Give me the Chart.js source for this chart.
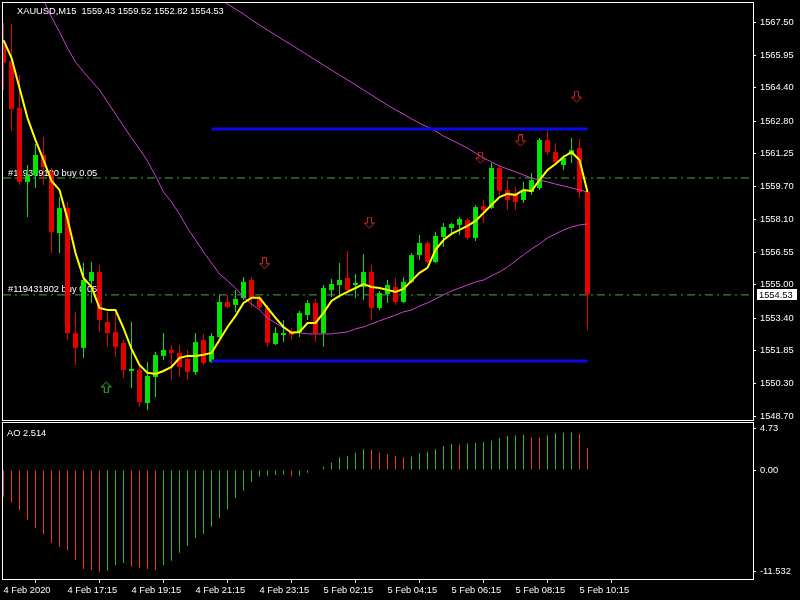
<!DOCTYPE html>
<html lang="en">
<head>
<meta charset="UTF-8">
<title>XAUUSD,M15</title>
<style>
    html, body { margin: 0; padding: 0; background: #000; }
    #wrap { position: relative; width: 800px; height: 600px; background: #000; overflow: hidden; }
    #main { position: absolute; left: 0; top: 0; }
    #osc { position: absolute; left: 0; top: 422px; }
</style>
<script src="https://cdn.jsdelivr.net/npm/chart.js"></script>
</head>
<body>
<div id="wrap">
    <canvas id="main" width="800" height="422"></canvas>
    <canvas id="osc" width="800" height="178"></canvas>
</div>
<script>
// ---- data (bar index 0 = 4 Feb 15:15, 15 min bars) ----
const symbol = 'XAUUSD,M15';

const open = [1566.44,1565.67,1563.43,1559.90,1560.23,1561.19,1560.37,1557.46,1558.66,1552.69,
    1551.98,1555.17,1555.60,1553.22,1552.74,1552.22,1550.88,1550.93,1549.35,1550.59,
    1551.60,1551.88,1551.74,1551.45,1550.83,1552.36,1551.31,1552.50,1554.17,1554.03,
    1554.36,1555.22,1554.36,1553.89,1552.17,1552.60,1552.74,1552.74,1553.55,1554.12,
    1552.69,1554.74,1554.98,1555.32,1554.98,1554.89,1555.60,1553.89,1554.55,1554.89,
    1554.17,1555.13,1556.41,1556.99,1556.08,1557.27,1557.70,1557.85,1558.08,1557.23,
    1558.75,1558.66,1560.57,1559.52,1559.37,1559.04,1559.42,1559.61,1561.90,1561.33,
    1560.71,1561.19,1561.52,1559.43];
const high = [1567.49,1567.44,1565.00,1560.71,1561.71,1562.04,1560.57,1559.18,1558.94,1553.69,
    1556.03,1556.08,1555.94,1553.69,1553.65,1552.36,1553.22,1551.17,1551.31,1551.79,
    1552.69,1552.12,1552.12,1551.88,1552.69,1552.65,1552.69,1554.51,1554.51,1554.74,
    1555.36,1555.36,1554.46,1554.03,1552.98,1553.31,1552.93,1553.74,1554.27,1554.32,
    1554.98,1555.27,1556.03,1556.61,1555.51,1556.46,1555.94,1554.70,1555.22,1555.32,
    1555.36,1556.51,1557.37,1557.08,1557.51,1557.94,1557.94,1558.23,1558.18,1558.80,
    1559.04,1560.80,1560.66,1559.99,1559.66,1559.90,1560.33,1562.00,1562.38,1561.76,
    1561.19,1562.00,1561.95,1559.52];
const low = [1564.29,1562.33,1559.75,1558.23,1559.61,1559.75,1556.51,1556.51,1552.36,1551.17,
    1551.50,1554.12,1552.74,1552.03,1551.55,1550.55,1550.07,1549.16,1549.02,1549.64,
    1551.40,1550.45,1550.59,1550.45,1550.69,1551.17,1551.26,1552.45,1553.89,1553.69,
    1554.27,1553.93,1553.79,1552.03,1552.12,1552.26,1552.36,1552.50,1553.31,1552.26,
    1552.03,1554.41,1554.36,1554.60,1554.36,1554.27,1553.31,1553.79,1554.12,1554.03,
    1554.12,1555.08,1556.18,1556.03,1556.03,1556.80,1557.37,1557.37,1557.13,1557.08,
    1557.94,1558.61,1559.28,1558.56,1558.56,1558.90,1559.28,1559.52,1561.19,1560.71,
    1560.47,1560.80,1559.13,1552.82];
const close = [1565.58,1563.38,1559.90,1560.23,1561.19,1560.61,1557.51,1558.66,1552.69,1551.98,
    1555.22,1555.60,1553.31,1552.69,1552.03,1550.93,1550.98,1549.40,1550.64,1551.64,
    1551.88,1551.74,1551.07,1550.83,1552.26,1551.26,1552.55,1554.17,1553.93,1554.32,
    1555.13,1554.36,1553.93,1552.22,1552.69,1552.69,1552.60,1553.65,1554.12,1552.69,
    1554.84,1555.03,1555.22,1554.74,1555.08,1555.60,1553.89,1554.60,1554.98,1554.17,
    1555.13,1556.41,1556.99,1556.08,1557.32,1557.75,1557.89,1558.13,1557.23,1558.70,
    1558.56,1560.57,1559.47,1559.04,1558.94,1559.52,1559.99,1561.90,1561.33,1560.85,
    1561.04,1561.42,1559.42,1554.53];

// yellow fast average
const maFast = [1566.67,1565.82,1564.38,1562.95,1561.90,1560.95,1559.95,1559.52,1558.13,1556.51,
    1555.32,1554.89,1553.89,1553.79,1553.79,1552.93,1551.93,1551.17,1550.79,1550.74,
    1550.88,1551.07,1551.50,1551.60,1551.60,1551.65,1551.74,1552.36,1552.98,1553.51,
    1554.13,1554.37,1554.37,1553.89,1553.41,1552.98,1552.70,1552.74,1553.17,1553.17,
    1553.65,1554.22,1554.46,1554.65,1554.84,1555.03,1554.89,1554.84,1554.75,1554.65,
    1554.80,1555.18,1555.56,1555.80,1556.66,1557.13,1557.42,1557.61,1557.80,1558.04,
    1558.42,1558.80,1559.18,1559.33,1559.28,1559.52,1559.47,1559.99,1560.47,1560.76,
    1561.09,1561.33,1560.95,1559.42];

// magenta averages (null = above the visible window / not drawn)
const maMid = [null,null,null,null,1569.30,1568.58,1567.77,1567.06,1566.29,1565.62,
    1565.15,1564.72,1564.29,1563.72,1563.14,1562.57,1562.00,1561.47,1560.90,1560.19,
    1559.42,1558.94,1558.37,1557.70,1557.13,1556.56,1556.03,1555.51,1555.18,1554.84,
    1554.41,1554.08,1553.79,1553.41,1553.17,1552.93,1552.74,1552.70,1552.65,1552.65,
    1552.65,1552.65,1552.70,1552.74,1552.89,1552.98,1553.13,1553.27,1553.41,1553.55,
    1553.70,1553.79,1553.98,1554.13,1554.32,1554.51,1554.70,1554.84,1554.98,1555.13,
    1555.22,1555.42,1555.61,1555.84,1556.13,1556.42,1556.70,1556.94,1557.23,1557.42,
    1557.61,1557.75,1557.85,1557.90];
const maSlow = [null,null,null,null,null,null,null,null,null,null,
    null,null,null,null,null,null,null,null,null,null,
    null,null,null,null,null,null,1568.92,1568.68,1568.39,1568.15,
    1567.92,1567.63,1567.39,1567.15,1566.91,1566.67,1566.44,1566.20,1565.96,1565.72,
    1565.48,1565.24,1565.00,1564.77,1564.53,1564.29,1564.05,1563.81,1563.57,1563.34,
    1563.14,1562.91,1562.71,1562.52,1562.33,1562.09,1561.90,1561.71,1561.52,1561.28,
    1561.04,1560.85,1560.66,1560.52,1560.38,1560.23,1560.09,1559.99,1559.90,1559.80,
    1559.71,1559.61,1559.52,1559.42];

// Awesome Oscillator
const ao = [-3.03,-3.71,-4.54,-5.67,-6.58,-7.26,-8.28,-8.73,-9.07,-10.20,
    -11.22,-11.34,-11.53,-11.42,-10.77,-10.54,-10.96,-11.11,-11.22,-11.34,
    -10.77,-10.28,-9.37,-8.62,-7.74,-7.26,-6.43,-5.48,-4.46,-3.21,
    -2.35,-1.33,-0.76,-0.65,-0.57,-0.55,-0.70,-0.66,-0.31,-0.05,
    0.37,0.83,1.44,1.59,1.96,2.35,2.30,1.96,1.78,1.59,
    1.44,1.51,1.89,2.08,2.35,2.72,2.95,2.90,3.03,3.06,
    3.17,3.32,3.59,3.85,3.93,3.96,3.71,3.68,3.93,4.16,
    4.23,4.25,4.08,2.514];

// channel lines, trade lines, signal arrows
const channelFrom = 26, channelTo = 73;
const channelTop = 1562.43, channelBottom = 1551.36;
const tradeLevels = [1560.09, 1554.51];
const tradeText = ['#119369100 buy 0.05', '#119431802 buy 0.05'];
const downArrowX = [32.7, 45.8, 59.7, 64.7, 71.7];
const downArrowY = [1556.00, 1557.94, 1561.04, 1561.86, 1563.95];
const upArrowX = [12.9];
const upArrowY = [1550.12];

// axes
const timeLabels = ['4 Feb 2020','4 Feb 17:15','4 Feb 19:15','4 Feb 21:15','4 Feb 23:15',
    '5 Feb 02:15','5 Feb 04:15','5 Feb 06:15','5 Feb 08:15','5 Feb 10:15'];
const barsPerLabel = 8;
const priceTicks = [1548.70,1550.30,1551.85,1553.40,1555.00,1556.55,1558.10,
    1559.70,1561.25,1562.80,1564.40,1565.95,1567.50];
const aoTicks = [-11.532, 0, 4.73];
const aoTickText = ['-11.532', '0.00', '4.73'];

// ---- look ----
const BULL = '#00e600', BEAR = '#e60000';
const AO_UP = '#22c022', AO_DOWN = '#ff2a2a';
const FONT = '"Liberation Sans", Arial, sans-serif';
const FONT_PX = 9.3;
Chart.defaults.font.family = FONT;
Chart.defaults.font.size = FONT_PX;
Chart.defaults.color = '#ffffff';

const xMin = -0.0625, xMax = 93.6875;
const last = close.length - 1;
const idx = close.map((_, i) => i);
const candleColors = idx.map(i => close[i] >= open[i] ? BULL : BEAR);
const aoRising = ao.map((v, i) => i > 0 && v > ao[i - 1]);

function pts(arr) {
    return arr.map((v, i) => ({ x: i, y: v })).filter(p => p.y !== null);
}

function makeArrow(color, up) {
    const c = document.createElement('canvas');
    c.width = 12; c.height = 13;
    const g = c.getContext('2d');
    if (up) { g.translate(0, 13); g.scale(1, -1); }
    g.strokeStyle = color;
    g.lineWidth = 1;
    g.beginPath();
    g.moveTo(3.5, 0.5); g.lineTo(7.5, 0.5); g.lineTo(7.5, 6.5); g.lineTo(10.5, 6.5);
    g.lineTo(5.5, 11.5); g.lineTo(0.5, 6.5); g.lineTo(3.5, 6.5); g.closePath();
    g.stroke();
    return c;
}

function frame(ctx, a) {
    ctx.save();
    ctx.strokeStyle = '#ffffff';
    ctx.lineWidth = 1;
    ctx.strokeRect(a.left - 0.5, a.top - 0.5, a.right - a.left + 1, a.bottom - a.top + 1);
    ctx.restore();
}

const mainDecor = {
    id: 'mainDecor',
    beforeDatasetsDraw(chart) {
        const ctx = chart.ctx, y = chart.scales.y;
        ctx.save();
        ctx.font = FONT_PX + 'px ' + FONT;
        ctx.fillStyle = '#ffffff';
        ctx.textBaseline = 'middle';
        tradeLevels.forEach((lv, k) => ctx.fillText(tradeText[k], chart.chartArea.left + 5, y.getPixelForValue(lv) - 5));
        ctx.restore();
    },
    afterDraw(chart) {
        const ctx = chart.ctx, a = chart.chartArea, y = chart.scales.y;
        frame(ctx, a);
        ctx.save();
        ctx.font = FONT_PX + 'px ' + FONT;
        ctx.textBaseline = 'middle';
        ctx.fillStyle = '#ffffff';
        const title = symbol + '  ' + [open[last], high[last], low[last], close[last]].map(v => v.toFixed(2)).join(' ');
        ctx.fillText(title, a.left + 14, a.top + 8);
        const py = Math.round(y.getPixelForValue(close[last]));
        ctx.fillRect(a.right + 4, py - 5, 40, 11);
        ctx.fillStyle = '#000000';
        ctx.fillText(close[last].toFixed(2), a.right + 6, py + 1);
        ctx.restore();
    }
};

const oscDecor = {
    id: 'oscDecor',
    afterDraw(chart) {
        const ctx = chart.ctx, a = chart.chartArea;
        frame(ctx, a);
        ctx.save();
        ctx.font = FONT_PX + 'px ' + FONT;
        ctx.fillStyle = '#ffffff';
        ctx.textBaseline = 'middle';
        ctx.fillText('AO ' + ao[last], a.left + 4, a.top + 10);
        ctx.restore();
    }
};

new Chart(document.getElementById('main'), {
    type: 'bar',
    data: {
        datasets: [
            {
                label: 'wicks',
                data: idx.map(i => ({ x: i, y: [low[i], high[i]] })),
                backgroundColor: candleColors,
                maxBarThickness: 1, grouped: false, inflateAmount: 0, borderWidth: 0, order: 10
            },
            {
                label: 'bodies',
                data: idx.map(i => ({ x: i, y: [open[i], close[i]] })),
                backgroundColor: candleColors,
                maxBarThickness: 5, minBarLength: 1, grouped: false, inflateAmount: 0, borderWidth: 0, order: 9
            },
            {
                type: 'line', label: 'trade 1',
                data: [{ x: xMin, y: tradeLevels[0] }, { x: xMax, y: tradeLevels[0] }],
                borderColor: '#48a848', borderWidth: 1, borderDash: [8, 4, 2, 4], pointRadius: 0, order: 11
            },
            {
                type: 'line', label: 'trade 2',
                data: [{ x: xMin, y: tradeLevels[1] }, { x: xMax, y: tradeLevels[1] }],
                borderColor: '#48a848', borderWidth: 1, borderDash: [8, 4, 2, 4], pointRadius: 0, order: 11
            },
            {
                type: 'line', label: 'slow MA', data: pts(maSlow),
                borderColor: '#d040d0', borderWidth: 1, pointRadius: 0, tension: 0, order: 5
            },
            {
                type: 'line', label: 'mid MA', data: pts(maMid),
                borderColor: '#d040d0', borderWidth: 1, pointRadius: 0, tension: 0, order: 4
            },
            {
                type: 'line', label: 'channel top',
                data: [{ x: channelFrom, y: channelTop }, { x: channelTo, y: channelTop }],
                borderColor: '#0a0ae6', borderWidth: 3, pointRadius: 0, order: 3
            },
            {
                type: 'line', label: 'channel bottom',
                data: [{ x: channelFrom, y: channelBottom }, { x: channelTo, y: channelBottom }],
                borderColor: '#0a0ae6', borderWidth: 3, pointRadius: 0, order: 3
            },
            {
                type: 'line', label: 'fast MA', data: pts(maFast),
                borderColor: '#ffff00', borderWidth: 2, pointRadius: 0, tension: 0, order: 2
            },
            {
                type: 'line', label: 'sell signals', showLine: false,
                data: downArrowX.map((x, k) => ({ x: x, y: downArrowY[k] })),
                pointStyle: makeArrow('#d02828', false), pointRadius: 6, order: 1
            },
            {
                type: 'line', label: 'buy signals', showLine: false,
                data: upArrowX.map((x, k) => ({ x: x, y: upArrowY[k] })),
                pointStyle: makeArrow('#2ec82e', true), pointRadius: 6, order: 1
            }
        ]
    },
    options: {
        responsive: false,
        animation: false,
        events: [],
        layout: { autoPadding: false, padding: { left: 3, top: 3, right: 0, bottom: 2 } },
        plugins: { legend: { display: false }, tooltip: { enabled: false } },
        scales: {
            x: { type: 'linear', display: false, min: xMin, max: xMax, offset: false },
            y: {
                type: 'linear', position: 'right', min: 1548.54, max: 1568.44,
                afterFit(s) { s.width = 47; s.paddingTop = 0; s.paddingBottom = 0; },
                afterBuildTicks(s) { s.ticks = priceTicks.map(v => ({ value: v })); },
                ticks: { color: '#ffffff', padding: 4, callback: v => v.toFixed(2) },
                grid: { drawOnChartArea: false, drawTicks: true, tickLength: 3, color: '#ffffff' },
                border: { display: false }
            }
        }
    },
    plugins: [mainDecor]
});

new Chart(document.getElementById('osc'), {
    type: 'bar',
    data: {
        datasets: [
            {
                label: 'AO rising',
                data: ao.map((v, i) => ({ x: i, y: aoRising[i] ? v : null })),
                backgroundColor: AO_UP,
                maxBarThickness: 1, grouped: false, inflateAmount: 0, borderWidth: 0
            },
            {
                label: 'AO falling',
                data: ao.map((v, i) => ({ x: i, y: aoRising[i] ? null : v })),
                backgroundColor: AO_DOWN,
                maxBarThickness: 1, grouped: false, inflateAmount: 0, borderWidth: 0
            }
        ]
    },
    options: {
        responsive: false,
        animation: false,
        events: [],
        layout: { autoPadding: false, padding: { left: 3, top: 1, right: 0, bottom: 0 } },
        plugins: { legend: { display: false }, tooltip: { enabled: false } },
        scales: {
            x: {
                type: 'linear', min: xMin, max: xMax, offset: false,
                afterFit(s) { s.height = 21; s.paddingLeft = 0; s.paddingRight = 0; },
                afterBuildTicks(s) { s.ticks = timeLabels.map((_, k) => ({ value: k * barsPerLabel })); },
                ticks: {
                    color: '#ffffff', align: 'start', padding: 2, maxRotation: 0, autoSkip: false,
                    callback: (v, k) => timeLabels[k]
                },
                grid: { drawOnChartArea: false, drawTicks: true, tickLength: 4, color: '#ffffff' },
                border: { display: false }
            },
            y: {
                type: 'linear', position: 'right', min: -12.36, max: 5.33,
                afterFit(s) { s.width = 47; s.paddingTop = 0; s.paddingBottom = 0; },
                afterBuildTicks(s) { s.ticks = aoTicks.map(v => ({ value: v })); },
                ticks: { color: '#ffffff', padding: 4, callback: (v, k) => aoTickText[k] },
                grid: { drawOnChartArea: false, drawTicks: true, tickLength: 3, color: '#ffffff' },
                border: { display: false }
            }
        }
    },
    plugins: [oscDecor]
});
</script>
</body>
</html>
